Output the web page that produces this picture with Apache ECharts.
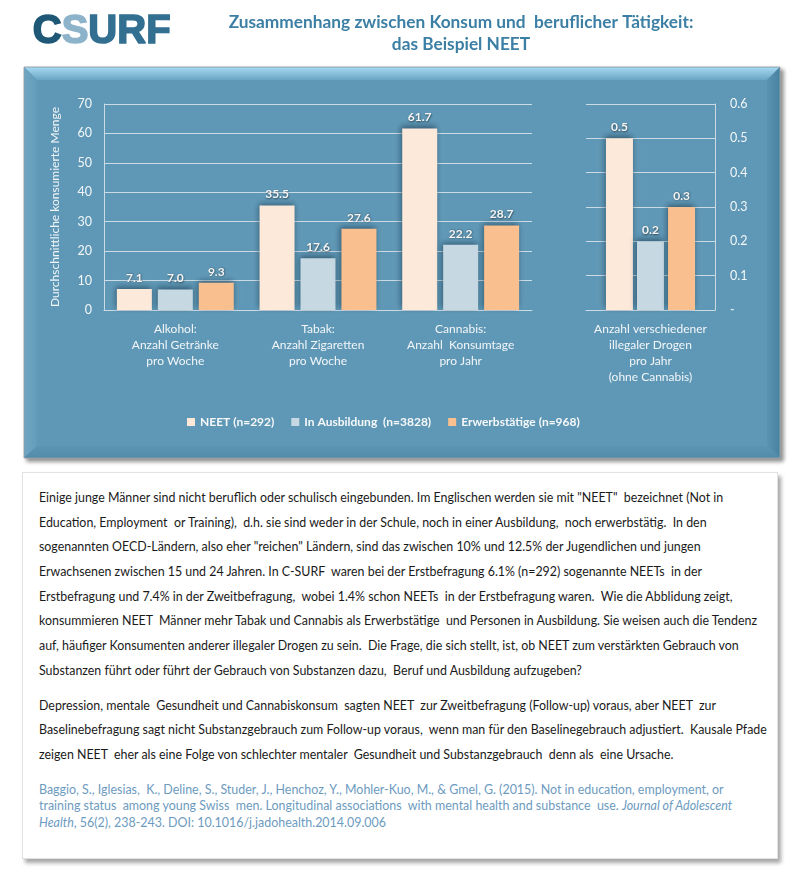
<!DOCTYPE html>
<html>
<head>
<meta charset="utf-8">
<script src="https://cdn.jsdelivr.net/npm/echarts@6/dist/echarts.min.js"></script>
<style>
  html, body { margin: 0; padding: 0; background: #ffffff; }
  #page { position: relative; width: 798px; height: 882px; overflow: hidden; }
  #chart { position: absolute; left: 0; top: 0; width: 798px; height: 470px; }
  #textbox {
    position: absolute; left: 22px; top: 472px; width: 754px; height: 385px;
    background: #ffffff; border: 1px solid #e2e2e2;
    box-shadow: 3px 4px 4px rgba(0,0,0,0.35);
    font-family: Lato, "Noto Sans", sans-serif; color: #1a1a1a;
  }
  .para { position: absolute; left: 16px; white-space: nowrap; font-size: 12.4px; }
  .para div { line-height: 24.7px; height: 24.7px; }
  #p1 { top: 13px; }
  #p2 { top: 220.5px; }
  #cite { position: absolute; left: 16px; top: 308.5px; white-space: nowrap; font-size: 12.45px; color: #6d9bbf; }
  #cite div { line-height: 16.5px; height: 16.5px; }
</style>
</head>
<body>
<div id="page">
  <div id="chart"></div>
  <div id="textbox">
    <div class="para" id="p1">
      <div>Einige junge Männer sind nicht beruflich oder schulisch eingebunden. Im Englischen werden sie mit "NEET"&nbsp; bezeichnet (Not in</div>
      <div>Education, Employment&nbsp; or Training),&nbsp; d.h. sie sind weder in der Schule, noch in einer Ausbildung,&nbsp; noch erwerbstätig.&nbsp; In den</div>
      <div>sogenannten OECD-Ländern, also eher "reichen" Ländern, sind das zwischen 10% und 12.5% der Jugendlichen und jungen</div>
      <div>Erwachsenen zwischen 15 und 24 Jahren. In C-SURF&nbsp; waren bei der Erstbefragung 6.1% (n=292) sogenannte NEETs&nbsp; in der</div>
      <div>Erstbefragung und 7.4% in der Zweitbefragung,&nbsp; wobei 1.4% schon NEETs&nbsp; in der Erstbefragung waren.&nbsp; Wie die Abblidung zeigt,</div>
      <div>konsummieren NEET&nbsp; Männer mehr Tabak und Cannabis als Erwerbstätige&nbsp; und Personen in Ausbildung. Sie weisen auch die Tendenz</div>
      <div>auf, häufiger Konsumenten anderer illegaler Drogen zu sein.&nbsp; Die Frage, die sich stellt, ist, ob NEET zum verstärkten Gebrauch von</div>
      <div>Substanzen führt oder führt der Gebrauch von Substanzen dazu,&nbsp; Beruf und Ausbildung aufzugeben?</div>
    </div>
    <div class="para" id="p2">
      <div>Depression, mentale&nbsp; Gesundheit und Cannabiskonsum&nbsp; sagten NEET&nbsp; zur Zweitbefragung (Follow-up) voraus, aber NEET&nbsp; zur</div>
      <div>Baselinebefragung sagt nicht Substanzgebrauch zum Follow-up voraus,&nbsp; wenn man für den Baselinegebrauch adjustiert.&nbsp; Kausale Pfade</div>
      <div>zeigen NEET&nbsp; eher als eine Folge von schlechter mentaler&nbsp; Gesundheit und Substanzgebrauch&nbsp; denn als&nbsp; eine Ursache.</div>
    </div>
    <div id="cite">
      <div>Baggio, S., Iglesias,&nbsp; K., Deline, S., Studer, J., Henchoz, Y., Mohler-Kuo, M., &amp; Gmel, G. (2015). Not in education, employment, or</div>
      <div>training status&nbsp; among young Swiss&nbsp; men. Longitudinal associations&nbsp; with mental health and substance&nbsp; use. <i>Journal of Adolescent</i></div>
      <div><i>Health</i>, 56(2), 238-243. DOI: 10.1016/j.jadohealth.2014.09.006</div>
    </div>
  </div>
</div>
<script>
// ---- data ----
const categories = ['Alkohol:\nAnzahl Getränke\npro Woche', 'Tabak:\nAnzahl Zigaretten\npro Woche', 'Cannabis:\nAnzahl  Konsumtage\npro Jahr'];
const drugCategory = ['Anzahl verschiedener\nillegaler Drogen\npro Jahr\n(ohne Cannabis)'];
const seriesNames = ['NEET (n=292)', 'In Ausbildung  (n=3828)', 'Erwerbstätige (n=968)'];
const neet = [7.1, 35.5, 61.7];
const ausbildung = [7.0, 17.6, 22.2];
const erwerb = [9.3, 27.6, 28.7];
const drugsNeet = [0.5];
const drugsAusbildung = [0.2];
const drugsErwerb = [0.3];
const leftTicks = { min: 0, max: 70, interval: 10 };
const rightTicks = { min: 0, max: 0.6, interval: 0.1 };
const yAxisName = 'Durchschnittliche konsumierte Menge';

// ---- styling ----
const colors = ['#fde9da', '#c6d9e3', '#f9bf8f'];
const FONT = 'Lato, "Noto Sans", sans-serif';
const LOGOFONT = '"Liberation Sans", Arial, sans-serif';
const txtColor = '#f2f6f8';
const gridLineColor = '#cbdbe4';

const chart = echarts.init(document.getElementById('chart'), null, { renderer: 'canvas' });

function barSeries(name, data, idx, axisIdx, width, gap) {
  return {
    type: 'bar', name: name, data: data,
    xAxisIndex: axisIdx, yAxisIndex: axisIdx,
    barWidth: width, barGap: gap,
    itemStyle: {
      color: colors[idx],
      shadowColor: 'rgba(15,40,60,0.55)', shadowBlur: 6, shadowOffsetX: -1, shadowOffsetY: -2
    },
    label: {
      show: true, position: 'top', distance: 5,
      formatter: p => Number(p.value).toFixed(1),
      color: '#f6f6f6', fontFamily: FONT, fontWeight: 'bold', fontSize: 12,
      textShadowColor: 'rgba(0,0,0,0.55)', textShadowBlur: 2, textShadowOffsetX: 0.5, textShadowOffsetY: 0.5
    },
    emphasis: { disabled: true }
  };
}

const logoStyle = (fill) => ({ fill: fill, stroke: fill, lineWidth: 1.6, fontFamily: LOGOFONT, fontWeight: 'bold', fontSize: 40 });

const option = {
  animation: false,
  graphic: [
    // logo
    {
      type: 'text', left: 32, top: 11,
      style: {
        text: '{c|C}{s|S}{u|URF}',
        rich: { c: logoStyle('#1f5776'), s: logoStyle('#8db3ca'), u: logoStyle('#336f91') }
      }
    },
    // title
    {
      type: 'text', x: 461, y: 11,
      style: {
        text: 'Zusammenhang zwischen Konsum und  beruflicher Tätigkeit:\ndas Beispiel NEET',
        textAlign: 'center', fill: '#3b7fa5',
        fontFamily: FONT, fontWeight: 'bold', fontSize: 17.3, lineHeight: 22
      }
    },
    // panel
    {
      type: 'rect', z: -10, shape: { x: 24, y: 67, width: 756, height: 391 },
      style: { fill: '#5f98b6', stroke: '#a9a9a9', lineWidth: 1, shadowColor: 'rgba(0,0,0,0.45)', shadowBlur: 4, shadowOffsetX: 3, shadowOffsetY: 3 }
    },
    // bevel top
    {
      type: 'polygon', z: -9, shape: { points: [[24.5, 67.5], [779.5, 67.5], [767, 80], [37, 80]] },
      style: { fill: new echarts.graphic.LinearGradient(0, 0, 0, 1, [{ offset: 0, color: '#a6d7f0' }, { offset: 1, color: '#6aa6c4' }]) }
    },
    // bevel left
    {
      type: 'polygon', z: -9, shape: { points: [[24.5, 67.5], [37, 80], [37, 446], [24.5, 457.5]] },
      style: { fill: new echarts.graphic.LinearGradient(0, 0, 1, 0, [{ offset: 0, color: '#6fa6c2' }, { offset: 1, color: '#639cba' }]) }
    },
    // bevel right
    {
      type: 'polygon', z: -9, shape: { points: [[779.5, 67.5], [779.5, 457.5], [767, 446], [767, 80]] },
      style: { fill: new echarts.graphic.LinearGradient(0, 0, 1, 0, [{ offset: 0, color: '#5a93b1' }, { offset: 1, color: '#4a83a2' }]) }
    },
    // bevel bottom
    {
      type: 'polygon', z: -9, shape: { points: [[24.5, 457.5], [37, 446], [767, 446], [779.5, 457.5]] },
      style: { fill: new echarts.graphic.LinearGradient(0, 0, 0, 1, [{ offset: 0, color: '#5c95b3' }, { offset: 1, color: '#538cab' }]) }
    }
  ],
  legend: {
    left: 182, top: 411, itemWidth: 8, itemHeight: 8, itemGap: 17,
    icon: 'rect', data: seriesNames,
    textStyle: { color: '#f6f8f9', fontFamily: FONT, fontWeight: 'bold', fontSize: 12 }
  },
  grid: [
    { left: 104, right: 266, top: 104, bottom: 160 },
    { left: 586, right: 83, top: 104, bottom: 160 }
  ],
  xAxis: [
    {
      type: 'category', gridIndex: 0, data: categories,
      axisLine: { show: true, lineStyle: { color: gridLineColor, width: 1 } },
      axisTick: { show: false },
      axisLabel: { interval: 0, margin: 11, color: txtColor, fontFamily: FONT, fontSize: 12, lineHeight: 16 }
    },
    {
      type: 'category', gridIndex: 1, data: drugCategory,
      axisLine: { show: true, lineStyle: { color: gridLineColor, width: 1 } },
      axisTick: { show: false },
      axisLabel: { interval: 0, margin: 11, color: txtColor, fontFamily: FONT, fontSize: 12, lineHeight: 16 }
    }
  ],
  yAxis: [
    {
      type: 'value', gridIndex: 0, min: leftTicks.min, max: leftTicks.max, interval: leftTicks.interval,
      name: yAxisName, nameLocation: 'middle', nameGap: 43, nameRotate: 90,
      nameTextStyle: { color: txtColor, fontFamily: FONT, fontSize: 12 },
      axisLine: { show: true, lineStyle: { color: gridLineColor, width: 1 } },
      axisTick: { show: false },
      axisLabel: { margin: 12, color: txtColor, fontFamily: FONT, fontSize: 12.5 },
      splitLine: { show: true, lineStyle: { color: gridLineColor, width: 1 } }
    },
    {
      type: 'value', gridIndex: 1, position: 'right', min: rightTicks.min, max: rightTicks.max, interval: rightTicks.interval,
      axisLine: { show: true, lineStyle: { color: gridLineColor, width: 1 } },
      axisTick: { show: false },
      axisLabel: {
        margin: 15, color: txtColor, fontFamily: FONT, fontSize: 12.5,
        formatter: v => (Math.abs(v) < 1e-9 ? '-' : v.toFixed(1))
      },
      splitLine: { show: true, lineStyle: { color: gridLineColor, width: 1 } }
    }
  ],
  series: [
    barSeries(seriesNames[0], neet, 0, 0, 35, '17%'),
    barSeries(seriesNames[1], ausbildung, 1, 0, 35, '17%'),
    barSeries(seriesNames[2], erwerb, 2, 0, 35, '17%'),
    barSeries(seriesNames[0], drugsNeet, 0, 1, 27, '15%'),
    barSeries(seriesNames[1], drugsAusbildung, 1, 1, 27, '15%'),
    barSeries(seriesNames[2], drugsErwerb, 2, 1, 27, '15%')
  ]
};
chart.setOption(option);
</script>
</body>
</html>
